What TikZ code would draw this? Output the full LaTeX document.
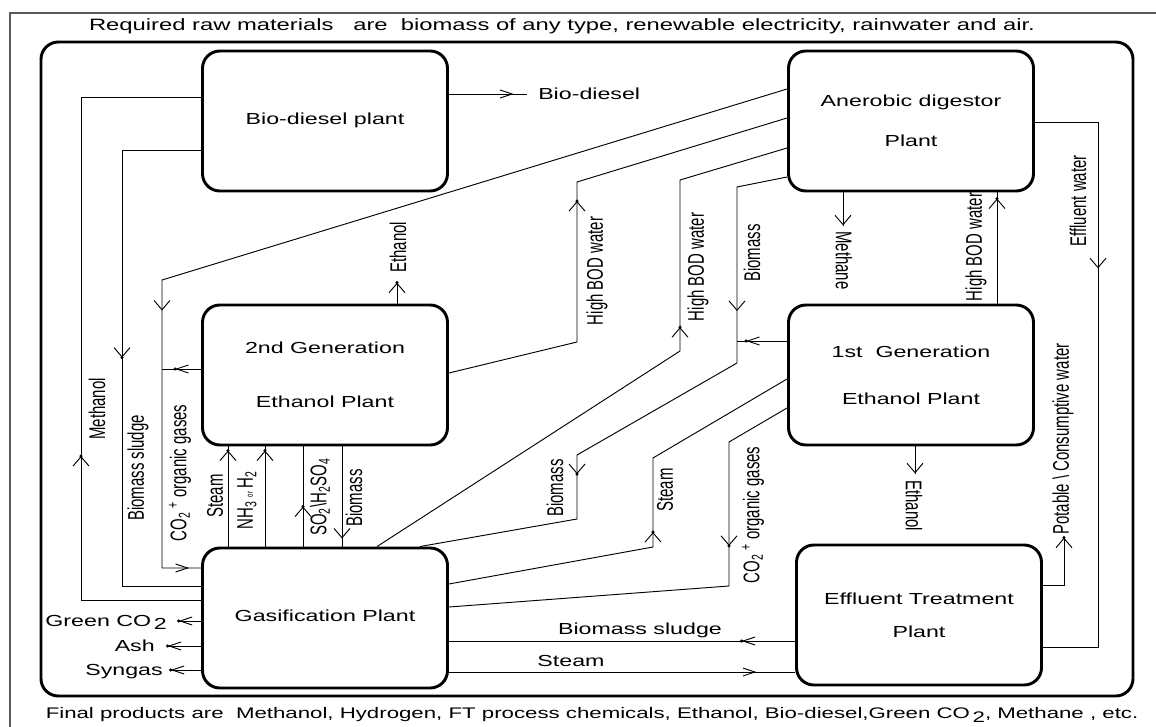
\documentclass[tikz,border=0pt]{standalone}
\usepackage{fontspec}
\setmainfont{Liberation Sans}[FakeStretch=1.45]
\newfontfamily\sidefont{Liberation Sans}[FakeStretch=0.66]
\usetikzlibrary{arrows.meta,decorations.markings}

\tikzset{
  vtip/.tip={Straight Barb[length=7pt,width=12pt]},
  htip/.tip={Straight Barb[length=9pt,width=6pt]},
  mid/.style 2 args={postaction={decorate,decoration={markings,mark=at position #1 with {\arrow{#2}}}}},
  dmid/.style 2 args={postaction={decorate,decoration={markings,mark=at position #1 with {\arrow{#2}\fill (0,0) circle (1.3pt);}}}},
}

\begin{document}
\begin{tikzpicture}[x=0.75pt,y=-0.75pt,node distance=439.5pt,
  plant/.style={draw,line width=2.2pt,rounded corners=13pt,minimum width=183.75pt,minimum height=105pt,inner sep=0pt,align=center,font=\fontsize{12}{14}\selectfont},
  pipe/.style={line width=0.7pt},
  lbl/.style={inner sep=0pt,font=\fontsize{12}{14}\selectfont},
  vlbl/.style={inner sep=0pt,rotate=90,font=\sidefont\fontsize{17}{19}\selectfont},
  dlbl/.style={inner sep=0pt,rotate=-90,font=\sidefont\fontsize{17}{19}\selectfont}]

  \useasboundingbox (0,0) rectangle (1156,727);

  % frames
  \draw[black!65,line width=0.8pt] (10,727) -- (10,13) -- (1156,13);
  \draw[line width=2.2pt,rounded corners=13pt] (41,42) rectangle (1133,696);
  \node[font=\fontsize{12.3}{14}\selectfont] (req) at (562,26) {Required raw materials\ \ \ are\ \ biomass of any type, renewable electricity, rainwater and air.};
  \node[font=\fontsize{11.5}{13}\selectfont] (fin) at (592,715) {Final products are\ \ Methanol, Hydrogen, FT process chemicals, Ethanol, Bio-diesel,Green CO\,\raisebox{-0.45ex}{2}, Methane , etc.};

  % plants
  \node[plant] (bd) at (325,121) {\raisebox{3pt}{Bio-diesel plant}};
  \node[plant] (ad) [right of = bd] {Anerobic digestor\\[16pt]Plant};
  \node[plant] (eth2) [node distance=190.5pt, below of = bd] {2nd Generation\\[26.5pt]Ethanol Plant};
  \node[plant] (eth1) [right of = eth2] {1st\ \ Generation\\[21pt]Ethanol Plant};
  \node[plant] (gas) [node distance=182.25pt, below of = eth2] {\raisebox{3pt}{Gasification Plant}};
  \node[plant] (etp) at (919,615) {Effluent Treatment\\[10.75pt]Plant};

  % free ends and junctions
  \coordinate (bdend) at (527,94);
  \coordinate (e2end) at (397,282);
  \coordinate (ja) at (162,369);
  \coordinate (jb) at (737,341);
  \coordinate (ch4) at (843,226);
  \coordinate (e1end) at (915,474);
  \coordinate (pwend) at (1064,537);
  \coordinate (gco2) at (178,621);
  \coordinate (ash) at (167,646);
  \coordinate (syn) at (170,670);

  % bio-diesel plant
  \draw[pipe,mid={48.5pt}{htip}] (bd.east |- bdend) -- (bdend);
  \node[lbl,anchor=west] (bdout) at (538,94) {Bio-diesel};
  \draw[pipe,dmid={215pt}{vtip}] (bd.west |- 0,150) -- (122,150) -- (122,586) -- (gas.west |- 0,586);
  \node[vlbl] (sludgea) at (138,468) {Biomass sludge};
  \draw[pipe,dmid={198pt}{vtip}] (gas.west |- 0,600) -- (81,600) -- (81,97) -- (bd.west |- 0,97);
  \node[vlbl] (meoh) at (97,409) {Methanol};

  % 2nd generation
  \draw[pipe,dmid={-0.5pt}{vtip}] (eth2.north -| e2end) -- (e2end);
  \node[vlbl,anchor=west] (eth2out) at (398,273) {Ethanol};
  \draw[pipe,mid={513pt}{vtip},mid={-9pt}{htip}] (ad.west |- 0,89) -- (162,280) -- (162,568) -- (gas.west |- 0,568);
  \draw[pipe,dmid={19.5pt}{htip}] (eth2.west |- ja) -- (ja);
  \node[vlbl] (co2a) at (180,473) {CO\textsubscript{2}\,\textsuperscript{+} organic gases};
  \draw[pipe,dmid={204.5pt}{vtip}] (eth2.east |- 0,373) -- (577,342) -- (577,182) -- (ad.west |- 0,118);
  \node[vlbl] (boda) at (597,271) {High BOD water};

  % gasification to 2nd generation
  \draw[pipe,dmid={72pt}{vtip}] (gas.north -| 228,0) -- (eth2.south -| 228,0);
  \node[vlbl] (steama) at (215,496) {Steam};
  \draw[pipe,dmid={72pt}{vtip}] (gas.north -| 265,0) -- (eth2.south -| 265,0);
  \node[vlbl] (nh3) at (247,500) {NH\textsubscript{3}\,{\scriptsize or}\,H\textsubscript{2}};
  \draw[pipe,dmid={30pt}{vtip}] (gas.north -| 303,0) -- (eth2.south -| 303,0);
  \node[vlbl] (so2) at (320,497) {SO\textsubscript{2}\textbackslash H\textsubscript{2}SO\textsubscript{4}};
  \draw[pipe,mid={69pt}{vtip}] (eth2.south -| 342,0) -- (gas.north -| 342,0);
  \node[vlbl] (bioa) at (354,498) {Biomass};

  % gasification and anaerobic digestor
  \draw[pipe,dmid={288.3pt}{vtip}] (gas.north -| 377,0) -- (680,351) -- (680,180) -- (ad.west |- 0,148);
  \node[vlbl] (bodb) at (698,267) {High BOD water};
  \draw[pipe,mid={131.25pt}{vtip},dmid={323pt}{vtip}] (ad.west |- 0,177) -- (737,187) -- (737,363) -- (577,455) -- (577,519) -- (gas.north -| 420,0);
  \node[vlbl] (biob) at (752,253) {Biomass};
  \node[vlbl] (bioc) at (555,488) {Biomass};
  \draw[pipe,dmid={30.75pt}{htip}] (eth1.west |- jb) -- (jb);

  % 1st generation
  \draw[pipe,dmid={166.7pt}{vtip}] (gas.east |- 0,584) -- (653,547) -- (653,458) -- (eth1.west |- 0,379);
  \node[vlbl] (steamb) at (665,490) {Steam};
  \draw[pipe,dmid={128.3pt}{vtip}] (eth1.west |- 0,408) -- (729,442) -- (729,586) -- (gas.east |- 0,607);
  \node[vlbl] (co2b) at (753,515) {CO\textsubscript{2}\,\textsuperscript{+} organic gases};
  \draw[pipe,dmid={78.75pt}{vtip}] (eth1.north -| 997,0) -- (ad.south -| 997,0);
  \node[vlbl] (bodc) at (976,247) {High BOD water};
  \draw[pipe,mid={-0.5pt}{vtip}] (eth1.south -| e1end) -- (e1end);
  \node[dlbl,anchor=west] (eth1out) at (914,480) {Ethanol};

  % anaerobic digestor
  \draw[pipe,mid={-0.5pt}{vtip}] (ad.south -| ch4) -- (ch4);
  \node[dlbl,anchor=west] (ch4lbl) at (844,231) {Methane};
  \draw[pipe,mid={157pt}{vtip}] (ad.east |- 0,122) -- (1098,122) -- (1098,647) -- (etp.east |- 0,647);
  \node[vlbl] (effw) at (1078,201) {Effluent water};

  % effluent treatment
  \draw[pipe,dmid={-0.5pt}{vtip}] (etp.east |- 0,585) -- (1064,585) -- (pwend);
  \node[vlbl,anchor=west] (pw) at (1063,535) {Potable \textbackslash\ Consumptive water};
  \draw[pipe,dmid={40.1pt}{htip}] (etp.west |- 0,641) -- (gas.east |- 0,641);
  \node[lbl] (sludgeb) at (640,630) {Biomass sludge};
  \draw[pipe,mid={230.6pt}{htip}] (gas.east |- 0,672) -- (etp.west |- 0,672);
  \node[lbl] (steamc) at (571,661) {Steam};

  % gasification products
  \draw[pipe,dmid={-0.5pt}{htip}] (gas.west |- gco2) -- (gco2);
  \node[lbl,anchor=base east] (gco2lbl) at (167,626) {Green CO\,\raisebox{-0.45ex}{2}};
  \draw[pipe,dmid={-0.5pt}{htip}] (gas.west |- ash) -- (ash);
  \node[lbl,anchor=base east] (ashlbl) at (155,651) {Ash};
  \draw[pipe,dmid={-0.5pt}{htip}] (gas.west |- syn) -- (syn);
  \node[lbl,anchor=base east] (synlbl) at (163,675) {Syngas};
\end{tikzpicture}
\end{document}
